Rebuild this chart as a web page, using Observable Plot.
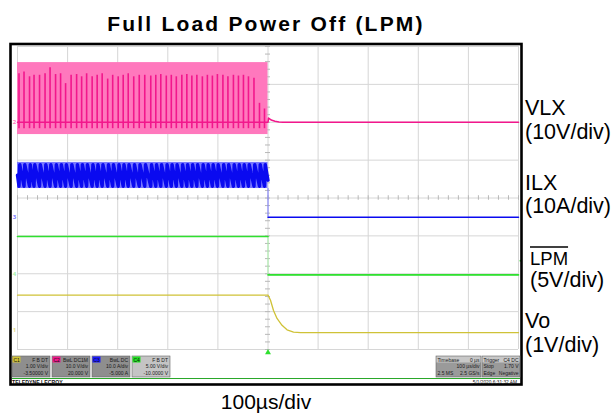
<!DOCTYPE html>
<html><head><meta charset="utf-8">
<script src="https://cdn.jsdelivr.net/npm/d3@7"></script>
<script src="https://cdn.jsdelivr.net/npm/@observablehq/plot@0.6"></script>
<style>
html,body{margin:0;padding:0;background:#fff;}
#wrap{position:relative;width:614px;height:414px;overflow:hidden;}
#wrap svg{position:absolute;left:0;top:0;}
</style></head><body><div id="wrap"></div>
<script>
// ---------------- data ----------------
const gridTimes = [-500, -400, -300, -200, -100, 0, 100, 200, 300, 400, 500]; // µs, 100 µs/div
const gridDivs = [-4, -3, -2, -1, 0, 1, 2, 3, 4];
const chNames  = ["C1", "C2", "C3", "C4"];
const chSignal = ["Vo", "VLX", "ILX", "LPM"];
const chPerDiv = [1, 10, 10, 5];          // V/div, V/div, A/div, V/div
const chOffset = [-3.5, 20, -5, -10];     // V, V, A, V
const chColor  = ["#cfc237", "#f2178c", "#0a0af0", "#2fe02f"];
const chLight  = ["#e4dc8c", "#ff78bd", "#7878ff", "#a6f0a6"];

const swTimes = [-497,-487,-476,-467,-456,-445,-435,-424,-414,-404,-393,-382,-372,-362,-351,-341,
  -331,-320,-310,-299,-289,-279,-268,-257,-246,-234,-224,-214,-203,-193,-183,-172,-162,-152,
  -142,-131,-121,-111,-101,-90,-80,-69,-59,-49,-39,-28,-17,-7];
const vlxPeak = [12.8,13.3,12.0,12.4,12.4,12.8,14.4,12.6,12.8,10.2,12.4,12.6,12.0,12.8,12.0,12.4,
  12.8,11.4,12.4,12.0,12.4,12.8,12.0,12.4,12.4,12.2,12.4,12.6,12.2,12.4,12.0,12.4,12.6,12.2,
  12.4,12.0,12.4,12.2,12.6,12.4,12.0,12.4,12.2,12.4,12.0,11.6,5.0,3.5];
const vlxSpikeLow = -1.7;            // V
const vlxEnvelope = [-3.25, 15.75];  // V (light band)
const vlxTailT = [-500, 0, 1, 4, 8, 14, 22, 30, 500];
const vlxTailV = [0, 0, 1.1, 0.8, 0.5, 0.25, 0.08, 0, 0];

const ilxEnvelope = [7.5, 14.4];     // A
const ilxTeeth = [8.1, 13.8];        // A, dark sawtooth min / max
const ilxRise = 1.5;                 // µs
const ilxTailT = [0, 500];
const ilxTailI = [-0.07, -0.07];

const lpmT = [-500, 0, 0, 500];
const lpmV = [4.92, 4.92, -0.15, -0.15];

const voT = [-500, 0, 5, 11, 18, 28, 38, 51, 65, 500];
const voV = [0.935, 0.935, 0.80, 0.53, 0.32, 0.14, 0.02, -0.04, -0.055, -0.055];

const trigLevel = 1.70; // V on C4

// ---------------- helpers ----------------
const ch = name => chSignal.indexOf(name);
const toDiv = (name, v) => { const i = ch(name); return (v + chOffset[i]) / chPerDiv[i]; };
const zip = (name, ts, vs) => ts.map((t, k) => ({t, v: vs[k], y: toDiv(name, vs[k])}));

const minorX = d3.range(-500, 500.1, 20);
const minorY = d3.range(-4, 4.01, 0.2);

const vlxSpikes = swTimes.map((t, k) => ({t, y1: toDiv("VLX", vlxSpikeLow), y2: toDiv("VLX", vlxPeak[k])}));
const ilxSaw = [{t: -500, y: toDiv("ILX", 11)}];
swTimes.forEach(t => {
  ilxSaw.push({t, y: toDiv("ILX", ilxTeeth[0])});
  ilxSaw.push({t: t + ilxRise, y: toDiv("ILX", ilxTeeth[1])});
});
ilxSaw.push({t: 0, y: toDiv("ILX", 9.7)});

const C = name => chColor[ch(name)];
const L = name => chLight[ch(name)];
const lpmData = zip("LPM", lpmT, lpmV);

const plot = Plot.plot({
  width: 614, height: 414,
  marginLeft: 17, marginRight: 96, marginTop: 46, marginBottom: 65,
  x: {domain: [-500, 500], axis: null},
  y: {domain: [-4, 4], axis: null},
  style: {background: "transparent", overflow: "visible"},
  marks: [
    Plot.ruleX(gridTimes, {stroke: "#d6d6d6", strokeWidth: 1}),
    Plot.ruleY(gridDivs, {stroke: "#d6d6d6", strokeWidth: 1}),
    Plot.ruleX(minorX, {y1: -0.06, y2: 0.06, stroke: "#b8b8b8"}),
    Plot.ruleY(minorY, {x1: -5, x2: 5, stroke: "#b8b8b8"}),
    // VLX
    Plot.rect([vlxEnvelope], {x1: -500, x2: 0, y1: d => toDiv("VLX", d[0]), y2: d => toDiv("VLX", d[1]), fill: L("VLX")}),
    Plot.ruleX(vlxSpikes, {x: "t", y1: "y1", y2: "y2", stroke: C("VLX"), strokeWidth: 1.6}),
    Plot.line(zip("VLX", vlxTailT, vlxTailV), {x: "t", y: "y", stroke: C("VLX"), strokeWidth: 1.6}),
    // ILX
    Plot.rect([ilxEnvelope], {x1: -500, x2: 0, y1: d => toDiv("ILX", d[0]), y2: d => toDiv("ILX", d[1]), fill: L("ILX")}),
    Plot.line(ilxSaw, {x: "t", y: "y", stroke: C("ILX"), strokeWidth: 3.4}),
    Plot.ruleX([0], {y1: toDiv("ILX", ilxEnvelope[0]), y2: toDiv("ILX", ilxTailI[0]), stroke: L("ILX"), strokeWidth: 1}),
    Plot.line(zip("ILX", ilxTailT, ilxTailI), {x: "t", y: "y", stroke: C("ILX"), strokeWidth: 1.5}),
    // LPM: light vertical edge, bright horizontal levels
    Plot.line(lpmData, {x: "t", y: "y", stroke: L("LPM"), strokeWidth: 1}),
    Plot.line(lpmData, {x: "t", y: "y", z: "v", stroke: C("LPM"), strokeWidth: 1.6}),
    // Vo
    Plot.line(zip("Vo", voT, voV), {x: "t", y: "y", stroke: C("Vo"), strokeWidth: 1.3}),
    // channel ground markers
    Plot.text(chSignal, {x: -500, y: d => toDiv(d, 0), text: d => chNames[ch(d)].slice(1), dx: -3, fill: d => L(d), fontSize: 6, fontWeight: "bold"}),
    // trigger markers
    Plot.dot([0], {x: d => d, y: -4, symbol: "triangle", r: 2.2, fill: C("LPM"), dy: 3}),
    Plot.dot([toDiv("LPM", trigLevel)], {x: 500, y: d => d, dx: 2, r: 1, fill: C("LPM")})
  ]
});
document.getElementById("wrap").appendChild(plot);

// ---------------- annotations / scope frame ----------------
const svg = d3.select("#wrap").append("svg")
  .attr("width", 614).attr("height", 414)
  .style("pointer-events", "none")
  .attr("font-family", "'Liberation Sans', Arial, sans-serif");

svg.append("rect").attr("x", 10.5).attr("y", 44).attr("width", 511).attr("height", 340.5)
  .attr("fill", "none").attr("stroke", "#000").attr("stroke-width", 2.6);

svg.append("text").attr("x", 266).attr("y", 30.5).attr("text-anchor", "middle")
  .attr("font-size", 21).attr("font-weight", "bold").attr("letter-spacing", 2.2)
  .text("Full Load Power Off (LPM)");

const rightLabels = [
  {t: "VLX", x: 525, y: 115, s: 21.5},
  {t: "(10V/div)", x: 525, y: 138.5, s: 21.5},
  {t: "ILX", x: 525, y: 190, s: 21.5},
  {t: "(10A/div)", x: 525, y: 213, s: 21.5},
  {t: "LPM", x: 530, y: 265, s: 18.5, over: true},
  {t: "(5V/div)", x: 530, y: 286.5, s: 21.5},
  {t: "Vo", x: 525, y: 328, s: 21.5},
  {t: "(1V/div)", x: 525, y: 351.5, s: 21.5}
];
rightLabels.forEach(d => {
  const tx = svg.append("text").attr("x", d.x).attr("y", d.y).attr("font-size", d.s).attr("fill", "#000").text(d.t);
  if (d.over) {
    const w = tx.node().getComputedTextLength();
    svg.append("line").attr("x1", d.x).attr("x2", d.x + w).attr("y1", 247).attr("y2", 247)
      .attr("stroke", "#000").attr("stroke-width", 1.3);
  }
});

svg.append("text").attr("x", 266).attr("y", 409).attr("text-anchor", "middle")
  .attr("font-size", 21).text("100µs/div");

// scope status bar
const boxes = [
  {x: 12, tag: "C1", col: chColor[0], h: "F  B  DT", a: "1.00 V/div", b: "-3.50000 V", bg: "#8e8e8e"},
  {x: 52, tag: "C2", col: "#f0188c", h: "BwL DC1M", a: "10.0 V/div", b: "20.000 V", bg: "#8e8e8e"},
  {x: 92, tag: "C3", col: "#1a1aff", h: "BwL DC", a: "10.0 A/div", b: "-5.000 A", bg: "#8e8e8e"},
  {x: 132, tag: "C4", col: "#22e022", h: "F  B  DT", a: "5.00 V/div", b: "-10.0000 V", bg: "#c4c4c4"}
];
boxes.forEach(d => {
  svg.append("rect").attr("x", d.x).attr("y", 356).attr("width", 38).attr("height", 21)
    .attr("fill", d.bg).attr("stroke", "#666").attr("stroke-width", 0.6);
  svg.append("rect").attr("x", d.x + 0.5).attr("y", 356.5).attr("width", 8).attr("height", 6).attr("fill", d.col);
  svg.append("text").attr("x", d.x + 1.5).attr("y", 361.5).attr("font-size", 5).attr("fill", "#111").text(d.tag);
  [[d.h, 361.5], [d.a, 368], [d.b, 374.5]].forEach(([t, y]) =>
    svg.append("text").attr("x", d.x + 36).attr("y", y).attr("text-anchor", "end")
      .attr("font-size", 5).attr("fill", "#1a1a1a").text(t));
});
const rb = [
  {x: 436, w: 45, rows: [["Timebase", "0 µs"], ["", "100 µs/div"], ["2.5 MS", "2.5 GS/s"]]},
  {x: 482, w: 38, rows: [["Trigger", "C4 DC"], ["Stop", "1.70 V"], ["Edge", "Negative"]]}
];
rb.forEach(d => {
  svg.append("rect").attr("x", d.x).attr("y", 356).attr("width", d.w).attr("height", 21)
    .attr("fill", "#9a9a9a").attr("stroke", "#666").attr("stroke-width", 0.6);
  svg.append("rect").attr("x", d.x + 0.5).attr("y", 356.5).attr("width", d.w - 1).attr("height", 6).attr("fill", "#c8c8c8");
  d.rows.forEach(([l, r], k) => {
    const y = [361.5, 368, 374.5][k];
    svg.append("text").attr("x", d.x + 1.5).attr("y", y).attr("font-size", 5).attr("fill", "#1a1a1a").text(l);
    svg.append("text").attr("x", d.x + d.w - 1.5).attr("y", y).attr("text-anchor", "end").attr("font-size", 5).attr("fill", "#1a1a1a").text(r);
  });
});
svg.append("line").attr("x1", 12).attr("x2", 520).attr("y1", 378.5).attr("y2", 378.5)
  .attr("stroke", "#2aa82a").attr("stroke-width", 1.2);
svg.append("text").attr("x", 12).attr("y", 383.5).attr("font-size", 5.2).attr("font-weight", "bold").attr("fill", "#111")
  .text("TELEDYNE LECROY");
svg.append("text").attr("x", 517).attr("y", 383.5).attr("text-anchor", "end").attr("font-size", 4.8).attr("fill", "#111")
  .text("5/1/2020 6:31:32 AM");
</script></body></html>
